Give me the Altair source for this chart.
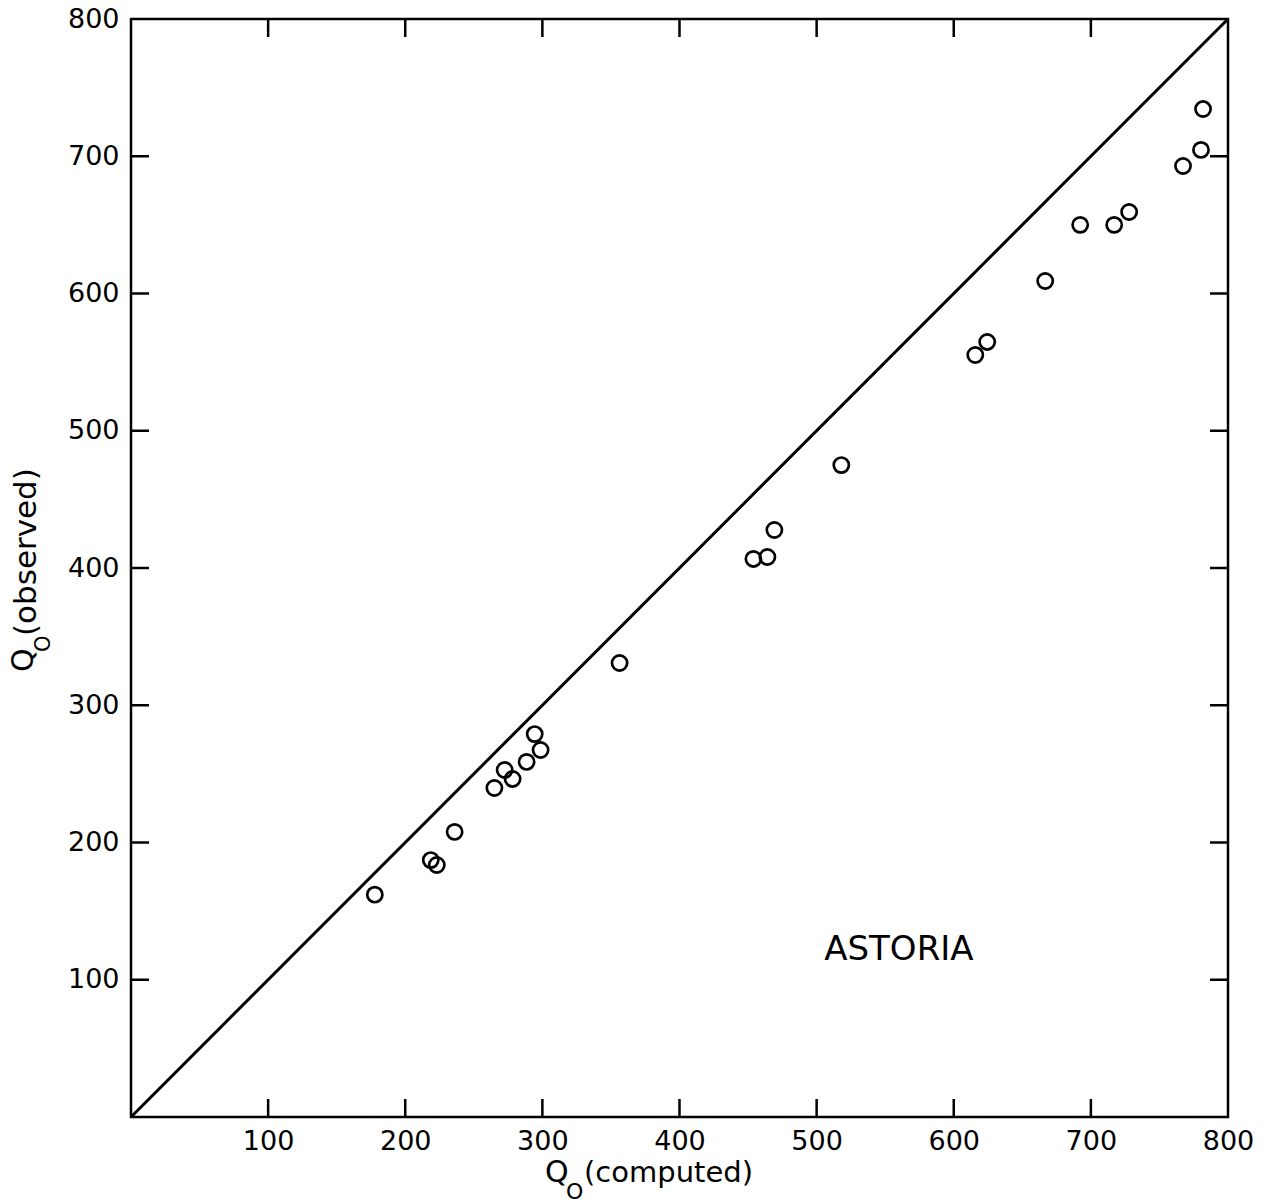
import altair as alt
import pandas as pd

# Observed vs computed values
q_computed = [177.8, 218.6, 223.0, 236.0, 265.0, 272.5, 278.3, 288.5, 294.4, 298.7,
              356.3, 453.9, 464.1, 469.2, 518.0, 615.7, 624.4, 666.7, 692.2, 717.0,
              727.9, 767.2, 780.3, 781.8]
q_observed = [162.0, 187.2, 183.6, 207.7, 239.7, 252.8, 246.3, 258.7, 279.0, 267.4,
              330.8, 406.6, 408.0, 427.7, 475.0, 555.2, 564.7, 609.1, 650.0, 650.0,
              659.4, 692.9, 704.6, 734.4]
line_x = [0, 800]
line_y = [0, 800]
tick_values = [100, 200, 300, 400, 500, 600, 700]
label_values = [100, 200, 300, 400, 500, 600, 700, 800]
station = "ASTORIA"
station_x = 560
station_y = 122

W, H = 1097, 1098
FONT = "DejaVu Sans"

pts = pd.DataFrame({"x": q_computed, "y": q_observed})
diag = pd.DataFrame({"x": line_x, "y": line_y})
ticks = pd.DataFrame({"v": tick_values})

xs = alt.Scale(domain=[0, 800], nice=False, zero=False)
ys = alt.Scale(domain=[0, 800], nice=False, zero=False)

points = alt.Chart(pts).mark_point(
    shape="circle", filled=False, size=230, strokeWidth=2.7, color="black", opacity=1
).encode(
    x=alt.X("x:Q", scale=xs, axis=alt.Axis(
        values=label_values, title=None, ticks=False, domain=False, grid=False,
        labelFont=FONT, labelFontSize=27, labelColor="black", labelPadding=11,
        labelFlush=False)),
    y=alt.Y("y:Q", scale=ys, axis=alt.Axis(
        values=label_values, title=None, ticks=False, domain=False, grid=False,
        labelFont=FONT, labelFontSize=27, labelColor="black", labelPadding=12,
        labelFlush=False)),
)

line = alt.Chart(diag).mark_line(color="black", strokeWidth=3).encode(
    x=alt.X("x:Q", scale=xs), y=alt.Y("y:Q", scale=ys)
)

tk = 18
bottom_ticks = alt.Chart(ticks).mark_rule(color="black", strokeWidth=2.5).encode(
    x=alt.X("v:Q", scale=xs), y=alt.value(H), y2=alt.value(H - tk))
top_ticks = alt.Chart(ticks).mark_rule(color="black", strokeWidth=2.5).encode(
    x=alt.X("v:Q", scale=xs), y=alt.value(0), y2=alt.value(tk))
left_ticks = alt.Chart(ticks).mark_rule(color="black", strokeWidth=2.5).encode(
    y=alt.Y("v:Q", scale=ys), x=alt.value(0), x2=alt.value(tk))
right_ticks = alt.Chart(ticks).mark_rule(color="black", strokeWidth=2.5).encode(
    y=alt.Y("v:Q", scale=ys), x=alt.value(W), x2=alt.value(W - tk))

label = alt.Chart(pd.DataFrame({"t": [station]})).mark_text(
    font=FONT, fontSize=34, color="black", align="center", baseline="middle"
).encode(x=alt.datum(station_x), y=alt.datum(station_y), text="t:N")

def txt(s, x, y, size, angle=0):
    return alt.Chart(pd.DataFrame({"t": [s]})).mark_text(
        font=FONT, fontSize=size, color="black", align="left",
        baseline="alphabetic", angle=angle
    ).encode(x=alt.value(x), y=alt.value(y), text="t:N")

x_title = (txt("Q", 414, 1163, 30) + txt("O", 435, 1180, 22)
           + txt("(computed)", 453, 1163, 29))
y_title = (txt("Q", -98, 653, 30, 270) + txt("O", -81, 633, 21, 270)
           + txt("(observed)", -95, 617, 31, 270))

chart = alt.layer(
    line, points, bottom_ticks, top_ticks, left_ticks, right_ticks, label,
    x_title, y_title
).properties(
    width=W, height=H,
    autosize=alt.AutoSizeParams(type="none"),
    padding={"left": 131, "top": 19, "right": 47, "bottom": 86},
    background="white",
).configure_view(stroke="black", strokeWidth=2.5)

chart.save("out.html", embed_options={"renderer": "svg", "actions": False})
